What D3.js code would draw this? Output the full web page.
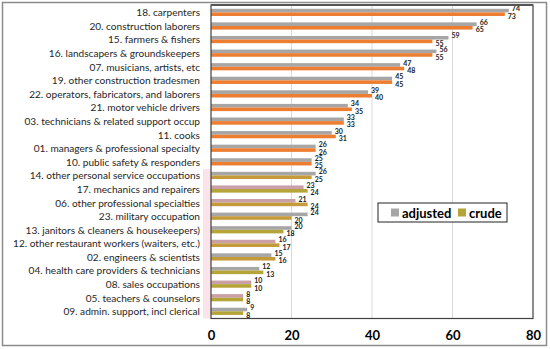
<!DOCTYPE html>
<html><head><meta charset="utf-8">
<script src="https://cdn.jsdelivr.net/npm/d3@7"></script>
<style>body{margin:0;background:#fff}svg{display:block}</style>
</head><body><svg id="c" width="550" height="349"></svg>
<script>
const categories = [
 "18. carpenters","20. construction laborers","15. farmers & fishers",
 "16. landscapers & groundskeepers","07. musicians, artists, etc",
 "19. other construction tradesmen","22. operators, fabricators, and laborers",
 "21. motor vehicle drivers","03. technicians & related support occup","11. cooks",
 "01. managers & professional specialty","10. public safety & responders",
 "14. other personal service occupations","17. mechanics and repairers",
 "06. other professional specialties","23. military occupation",
 "13. janitors & cleaners & housekeepers)","12. other restaurant workers (waiters, etc.)",
 "02. engineers & scientists","04. health care providers & technicians",
 "08. sales occupations","05. teachers & counselors","09. admin. support, incl clerical"];
const adjusted = [74,66,59,56,47,45,39,34,33,30,26,25,26,23,21,24,20,16,15,12,10,8,9];
const crude    = [73,65,55,55,48,45,40,35,33,31,26,25,25,24,24,20,18,17,16,13,10,8,8];
const xTicks = [0,20,40,60,80];
const seriesNames = ["adjusted","crude"];

// styling (colour per row, as in the source picture)
const adjColors = categories.map((c,i)=>[13,14,17,20,21].includes(i)?"#C9A0A8":"#A6A6A6");
const crudeColors = categories.map((c,i)=> i<12 ? "#ED7D31" :
   ([12,14,15,17,18].includes(i) ? "#C49A3A" : "#B5A437"));

const svg = d3.select("#c");
const L = 211, R = 533, T = 6, B = 318.5;
const x = d3.scaleLinear().domain([0,80]).range([L,R]);
const y = d3.scaleBand().domain(categories).range([T,B]);
const inner = d3.scaleBand().domain(seriesNames).range([0,7.2]);
const FONT = "Lato, 'Open Sans', sans-serif";

// outer border
svg.append("rect").attr("x",2.5).attr("y",2.5).attr("width",544).attr("height",343)
  .attr("fill","none").attr("stroke","#8c8c8c").attr("stroke-width",1.5);

// faint pink artefact strip
svg.append("rect").attr("x",203).attr("y",y(categories[12])).attr("width",8)
  .attr("height",B-y(categories[12])).attr("fill","#FBE3EA");

// grid
svg.append("g").selectAll("line").data(xTicks.slice(1,-1)).join("line")
  .attr("x1",d=>x(d)).attr("x2",d=>x(d)).attr("y1",T).attr("y2",B)
  .attr("stroke","#D9D9D9").attr("stroke-width",1);

// bars
const g = svg.append("g");
categories.forEach((c,i)=>{
  const y0 = y(c) + y.bandwidth()/2 - 4;
  g.append("rect").attr("x",L).attr("y",y0+inner("adjusted")).attr("width",x(adjusted[i])-L)
    .attr("height",inner.bandwidth()).attr("fill",adjColors[i]);
  g.append("rect").attr("x",L).attr("y",y0+inner("crude")).attr("width",x(crude[i])-L)
    .attr("height",inner.bandwidth()).attr("fill",crudeColors[i]);
  g.append("text").attr("x",x(adjusted[i])+3).attr("y",y0+2.5)
    .attr("font-family",FONT).attr("font-weight","bold").attr("font-size",7)
    .attr("fill","#222").text(adjusted[i]);
  g.append("text").attr("x",x(crude[i])+3).attr("y",y0+10)
    .attr("font-family",FONT).attr("font-weight","bold").attr("font-size",7)
    .attr("fill","#222").text(crude[i]);
});

// plot border
svg.append("rect").attr("x",L).attr("y",T-1).attr("width",R-L).attr("height",B-T+1)
  .attr("fill","none").attr("stroke","#404040").attr("stroke-width",1.2);
svg.append("line").attr("x1",L).attr("x2",R).attr("y1",T-1).attr("y2",T-1)
  .attr("stroke","#555").attr("stroke-width",2);

// category axis labels
svg.append("g").selectAll("text").data(categories).join("text")
  .attr("x",200).attr("y",d=>y(d)+y.bandwidth()/2+3.5).attr("text-anchor","end")
  .attr("font-family",FONT).attr("font-size",10.1).attr("fill","#262626")
  .text(d=>d);

// x axis
const xa = svg.append("g").attr("transform",`translate(0,${B})`)
  .call(d3.axisBottom(x).tickValues(xTicks).tickSize(0).tickPadding(12));
xa.select(".domain").remove();
xa.selectAll("text").attr("font-family",FONT).attr("font-weight","bold")
  .attr("font-size",13).attr("fill","#000");

// legend
const lg = svg.append("g").attr("transform","translate(378,203)");
lg.append("rect").attr("width",129).attr("height",19).attr("fill","#fff").attr("stroke","#222").attr("stroke-width",1);
const lc = ["#A6A6A6","#B5A437"];
seriesNames.forEach((n,i)=>{
  const ox = i===0 ? 13 : 80;
  lg.append("rect").attr("x",ox).attr("y",5.5).attr("width",8).attr("height",8).attr("fill",lc[i]);
  lg.append("text").attr("x",ox+11).attr("y",14.5).attr("font-family",FONT)
    .attr("font-weight","bold").attr("font-size",13).attr("fill","#000").text(n);
});
</script></body></html>
